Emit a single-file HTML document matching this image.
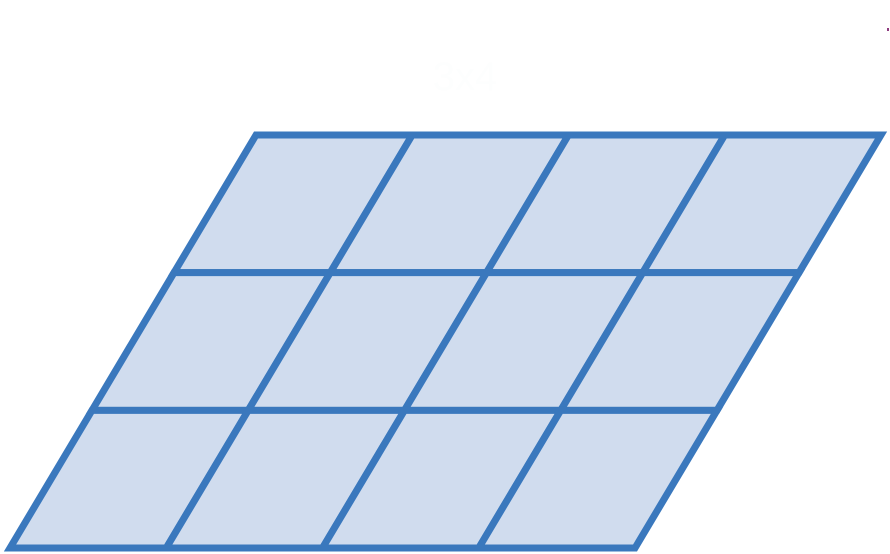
<!DOCTYPE html>
<html><head><meta charset="utf-8"><style>
html,body{margin:0;padding:0;background:#fff;width:890px;height:554px;overflow:hidden;font-family:"Liberation Sans",sans-serif}
</style></head><body>
<svg id="chart" width="890" height="554" viewBox="0 0 890 554">
<text x="465" y="90" font-size="40" fill="#fdfefe" text-anchor="middle">3x4</text>
<rect x="887" y="28" width="2" height="3" fill="#8e3a7e"/>
</svg>
<script>
const rows = [0, 1, 2];
const cols = [0, 1, 2, 3];
const svg = document.getElementById('chart');
const NS = 'http://www.w3.org/2000/svg';
const topY = 135, botY = 548, topLeftX = 256, botLeftX = 10, cellW = 156.25;
const nR = rows.length, nC = cols.length;
function yAt(r){ return topY + (botY - topY) * r / nR; }
function xAt(c, r){ return topLeftX + (botLeftX - topLeftX) * r / nR + c * cellW; }
const g = document.createElementNS(NS, 'g');


svg.appendChild(g);
rows.forEach(r => cols.forEach(c => {
  const p = document.createElementNS(NS, 'polygon');
  p.setAttribute('points', [[xAt(c,r),yAt(r)],[xAt(c+1,r),yAt(r)],[xAt(c+1,r+1),yAt(r+1)],[xAt(c,r+1),yAt(r+1)]].map(a=>a.join(',')).join(' '));
  p.setAttribute('fill', '#d0dcee');
  p.setAttribute('stroke', '#3a78bd');
  p.setAttribute('stroke-width', '7');
  p.setAttribute('stroke-linejoin', 'miter');
  
  
  g.appendChild(p);
}));
</script>
</body></html>
